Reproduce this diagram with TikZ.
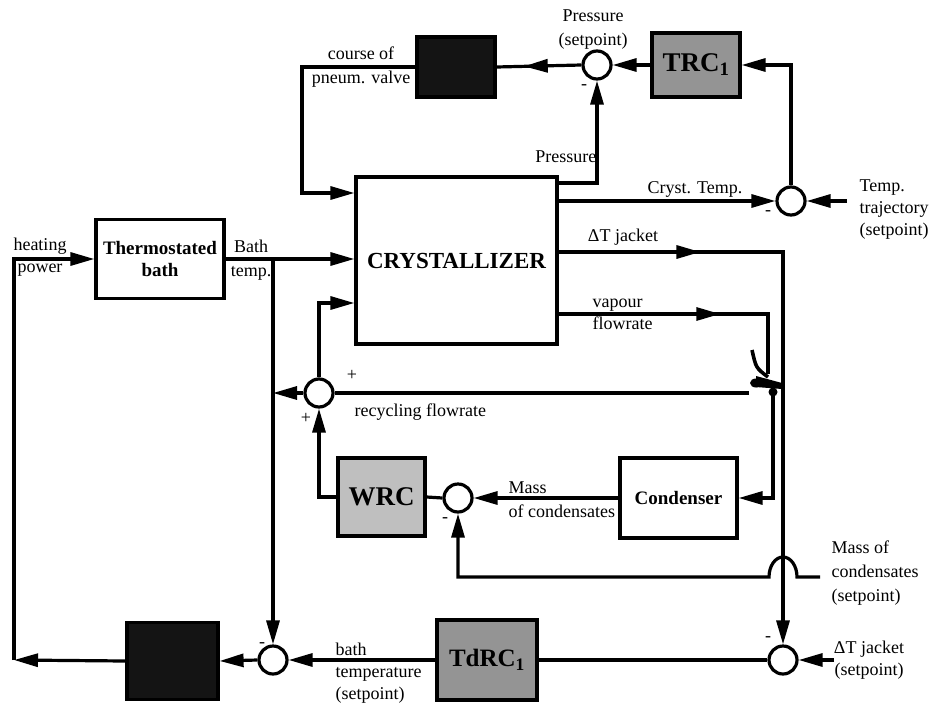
\documentclass[tikz,border=0pt]{standalone}
\usepackage{fontspec}
\setmainfont{Liberation Serif}
\usetikzlibrary{arrows.meta,decorations.markings}

\begin{document}
\begin{tikzpicture}[x=1pt, y=-1pt, line width=3.2pt,
  >={Triangle[length=24pt,width=13pt]},
  every node/.style={font=\fontsize{18}{22}\selectfont, inner sep=0pt},
  plant/.style={draw, fill=white, align=center, font=\fontsize{19}{22}\selectfont\bfseries},
  ctrl/.style={draw, fill=black!42, font=\fontsize{27}{30}\selectfont\bfseries},
  dark/.style={draw, fill=black!92},
  sum/.style={draw, circle, minimum size=28pt, fill=white},
  midarr/.style={postaction={decorate}, decoration={markings,
    mark=at position #1 with {\arrow{Triangle[length=24pt,width=13pt]}}}}]
  \useasboundingbox (0,0) rectangle (933,704);

  % blocks
  \node[plant, minimum width=128pt, minimum height=79pt] (bath) at (160,259) {Thermostated\\bath};
  \node[plant, minimum width=201pt, minimum height=167pt, font=\fontsize{23}{26}\selectfont\bfseries] (cryst) at (456.5,260.5) {CRYSTALLIZER};
  \node[plant, minimum width=117pt, minimum height=80pt] (cond) at (678.5,498) {Condenser};
  \node[dark, minimum width=78pt, minimum height=60pt] (pic) at (456,67) {};
  \node[ctrl, minimum width=88pt, minimum height=64pt] (trc) at (696,65) {TRC\textsubscript{1}};
  \node[ctrl, fill=black!25, minimum width=87pt, minimum height=78pt] (wrc) at (381.5,497) {WRC};
  \node[ctrl, minimum width=100pt, minimum height=80pt, font=\fontsize{25}{28}\selectfont\bfseries] (tdrc) at (487,660) {TdRC\textsubscript{1}};
  \node[dark, minimum width=91pt, minimum height=77pt] (tic) at (172.5,661) {};

  % summing points
  \node[sum] (sp) at (597,65) {};
  \node[sum] (st) at (791,201) {};
  \node[sum] (sr) at (319,393) {};
  \node[sum] (sm) at (458,498) {};
  \node[sum] (sj) at (783,660) {};
  \node[sum] (sb) at (273,660) {};

  \coordinate (cv) at (302,193);
  \coordinate (bt) at (273,259);
  \coordinate (hc) at (14,660);
  \coordinate (tt) at (847,201);
  \coordinate (rc) at (749,393);
  \coordinate (vt) at (768,374);
  \coordinate (vd) at (773,392);
  \coordinate (ms) at (820,577);
  \coordinate (js) at (834,660);

  % pressure and temperature loops
  \draw[->] (trc.west) -- (sp.east);
  \draw[midarr=0.68] (sp.west) -- (pic.east);
  \draw[->] (pic.west) -| (cv) -- (cryst.west |- cv);
  \draw[->] (cryst.east |- 0,183) -| (sp.south);
  \draw[->] (cryst.east |- 0,201) -- (st.west);
  \draw[->] (st.north) |- (trc.east);
  \draw[->] (tt) -- (st.east);

  % jacket and vapour
  \draw[->, midarr=0.23] (cryst.east |- 0,252) -| (sj.north);
  \draw[midarr=0.6] (cryst.east |- 0,314) -| (vt);
  \draw[line width=3.6pt] (752,350) .. controls (756,368) .. (768,377);
  \fill (756,383) ellipse (6 and 4.5);
  \fill (756,376) -- (782,383) -- (782,389) -- (756,387) -- cycle;
  \fill (vd) circle (4.5);
  \draw[->] (vd) |- (cond.east);
  \draw[->] (cond.west) -- (sm.east);
  \draw (sm.west) -- (wrc.east);
  \draw[->] (wrc.west) -| (sr.south);
  \draw (rc) -- (sr.east);
  \draw[->] (sr.west) -- (sr.west -| bt);
  \draw[->] (sr.north) |- (cryst.west |- 0,303);
  \draw[->] (ms) -- (797,577) arc[start angle=0, end angle=-180, x radius=14, y radius=20] -| (sm.south);

  % bath loop
  \draw[->] (bath.east) -- (cryst.west |- bath.east);
  \draw[->] (bt) -- (sb.north);
  \draw[->] (sb.west) -- (tic.east);
  \draw[->] (tic.west) -- (hc);
  \draw[->] (hc) |- (bath.west);
  \draw[->] (tdrc.west) -- (sb.east);
  \draw (sj.west) -- (tdrc.east);
  \draw[->] (js) -- (sj.east);

  % labels
  \node[align=center, font=\fontsize{18}{24}\selectfont] (lcv) at (361,67) {course of\\pneum. valve};
  \node[align=center, font=\fontsize{18}{24}\selectfont] (lps) at (593,30) {Pressure\\(setpoint)};
  \node (mp) at (584,87) {-};
  \node[anchor=east] (lp) at (598,157) {Pressure};
  \node (lct) at (695,189) {Cryst. Temp.};
  \node (mt) at (768,213) {-};
  \node[align=left, anchor=west] (ltt) at (858,210) {Temp.\\trajectory\\(setpoint)};
  \node (ldj) at (623,237) {ΔT jacket};
  \node[align=left, anchor=west] (lvf) at (591,314) {vapour\\flowrate};
  \node (pr1) at (352,375) {+};
  \node (pr2) at (306,418) {+};
  \node[anchor=west] (lrf) at (353,412) {recycling flowrate};
  \node[align=left, anchor=west, font=\fontsize{18}{24}\selectfont] (lmc) at (507,500) {Mass\\of condensates};
  \node (mm) at (445,520) {-};
  \node[align=left, anchor=west, font=\fontsize{18}{24}\selectfont] (lms) at (830,573) {Mass of\\condensates\\(setpoint)};
  \node (mj) at (768,639) {-};
  \node[align=center] (ljs) at (869,660) {ΔT jacket\\(setpoint)};
  \node[align=left, anchor=west] (lbs) at (334,673) {bath\\temperature\\(setpoint)};
  \node (mb) at (262,645) {-};
  \node[align=center] (lhp) at (40,257) {heating\\power};
  \node[align=center, font=\fontsize{18}{24}\selectfont] (lbt) at (251,260) {Bath\\temp.};
\end{tikzpicture}
\end{document}
